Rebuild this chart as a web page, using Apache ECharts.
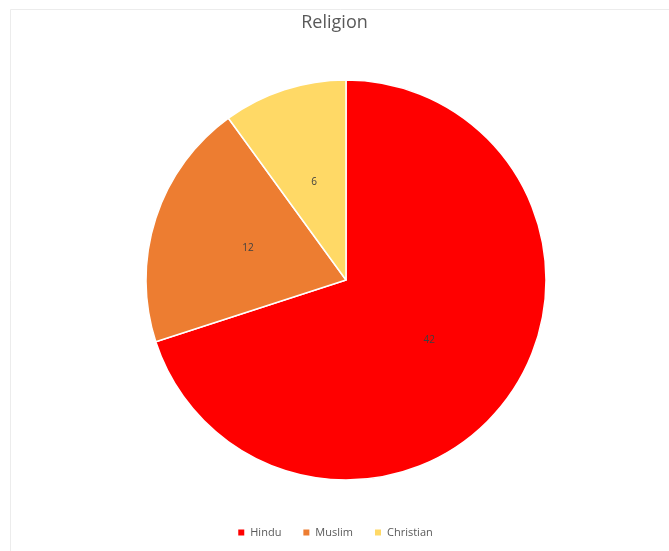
<!DOCTYPE html>
<html>
<head>
<meta charset="utf-8">
<script src="https://cdn.jsdelivr.net/npm/echarts@6/dist/echarts.min.js"></script>
<style>
html,body{margin:0;padding:0;background:#fff;}
#main{width:669px;height:551px;}
</style>
</head>
<body>
<div id="main"></div>
<script>
const categories = ['Hindu', 'Muslim', 'Christian'];
const values = [42, 12, 6];
const colors = ['#FF0000', '#ED7D31', '#FFD966'];

const chart = echarts.init(document.getElementById('main'), null, {renderer: 'canvas'});
chart.setOption({
  backgroundColor: '#ffffff',
  animation: false,
  title: {
    text: 'Religion',
    left: 'center',
    top: 9,
    textStyle: {fontFamily: 'Open Sans', fontSize: 18, fontWeight: 'normal', color: '#595959'}
  },
  graphic: [{
    type: 'rect',
    shape: {x: 10.5, y: 9.5, width: 670, height: 560},
    style: {fill: 'none', stroke: '#ececec', lineWidth: 1},
    silent: true
  }],
  legend: {
    data: categories,
    bottom: 8,
    left: 'center',
    itemWidth: 8,
    itemHeight: 8,
    itemGap: 20,
    icon: 'rect',
    textStyle: {fontFamily: 'Open Sans', fontSize: 11, color: '#595959'}
  },
  series: [{
    type: 'pie',
    center: [346, 280],
    radius: 200,
    startAngle: 90,
    clockwise: true,
    data: categories.map((c, i) => ({name: c, value: values[i], itemStyle: {color: colors[i]}})),
    itemStyle: {borderColor: '#ffffff', borderWidth: 1.5},
    label: {
      show: true,
      position: 'inside',
      formatter: '{c}',
      fontFamily: 'Open Sans',
      fontSize: 10,
      color: '#404040'
    },
    labelLine: {show: false},
    emphasis: {disabled: true}
  }]
});
</script>
</body>
</html>
